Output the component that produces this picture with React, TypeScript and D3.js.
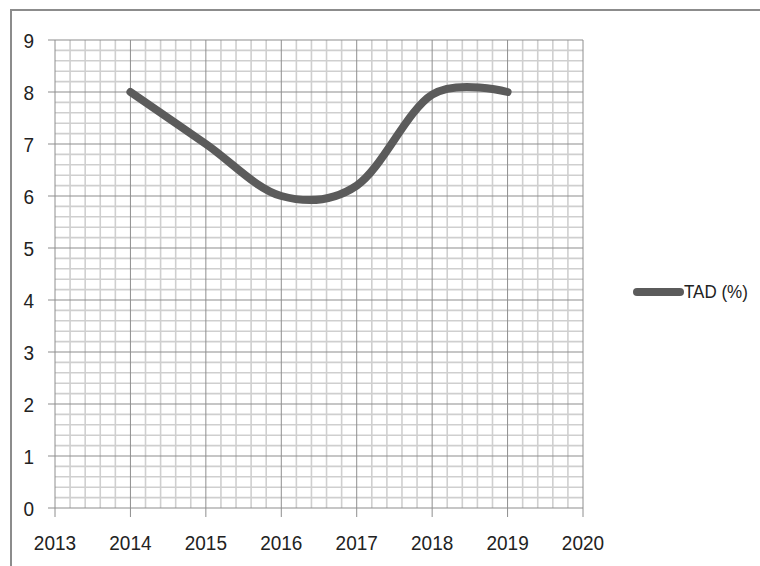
import React from "react";
import * as d3 from "d3";

const years = [2014, 2015, 2016, 2017, 2018, 2019];
const tad = [8, 7, 6, 6.2, 7.95, 8];
const xTicks = [2013, 2014, 2015, 2016, 2017, 2018, 2019, 2020];
const yTicks = [0, 1, 2, 3, 4, 5, 6, 7, 8, 9];
const seriesName = "TAD (%)";

const W = 760, H = 566;
const L = 55, R = 583, T = 40, B = 508;
const FONT = "'Liberation Sans', Arial, sans-serif";

export default function App() {
  const x = d3.scaleLinear().domain([2013, 2020]).range([L, R]);
  const y = d3.scaleLinear().domain([0, 9]).range([B, T]);

  const minorX = d3.range(0, 36).map((i) => 2013 + i * 0.2).filter((v, i) => i % 5 !== 0);
  const minorY = d3.range(0, 46).map((i) => i * 0.2).filter((v, i) => i % 5 !== 0);

  const line = d3
    .line<number>()
    .x((d, i) => x(years[i]))
    .y((d) => y(d))
    .curve(d3.curveCardinal.tension(0));

  return (
    <svg width={W} height={H} style={{ position: "absolute", left: 0, top: 0, background: "#fff" }}>
      <rect x={0} y={0} width={W} height={H} fill="#fff" />
      <line x1={10} y1={10} x2={W} y2={10} stroke="#8c8c8c" strokeWidth={2} />
      <line x1={11} y1={10} x2={11} y2={H} stroke="#8c8c8c" strokeWidth={2} />

      {minorX.map((v, i) => (
        <line key={"mx" + i} x1={x(v)} x2={x(v)} y1={T} y2={B} stroke="#cfcfcf" strokeWidth={1.6} />
      ))}
      {minorY.map((v, i) => (
        <line key={"my" + i} x1={L} x2={R} y1={y(v)} y2={y(v)} stroke="#cfcfcf" strokeWidth={1.6} />
      ))}
      {xTicks.map((v) => (
        <line key={"gx" + v} x1={x(v)} x2={x(v)} y1={T} y2={B + 9} stroke="#8e8e8e" strokeWidth={1} />
      ))}
      {yTicks.map((v) => (
        <line key={"gy" + v} x1={L - 7} x2={R} y1={y(v)} y2={y(v)} stroke="#8e8e8e" strokeWidth={1.2} />
      ))}

      {yTicks.map((v) => (
        <text
          key={"ty" + v}
          transform={`translate(34,${y(v) + 7.5}) scale(1,1.1)`}
          textAnchor="end"
          fontFamily={FONT}
          fontSize={19}
          fill="#222"
        >
          {v}
        </text>
      ))}
      {xTicks.map((v) => (
        <text
          key={"tx" + v}
          transform={`translate(${x(v)},550) scale(1,1.1)`}
          textAnchor="middle"
          fontFamily={FONT}
          fontSize={19}
          fill="#222"
        >
          {v}
        </text>
      ))}

      <path
        d={line(tad) || ""}
        fill="none"
        stroke="#5b5b5b"
        strokeWidth={8}
        strokeLinecap="round"
        strokeLinejoin="round"
      />

      <line x1={637} x2={680} y1={292} y2={292} stroke="#5b5b5b" strokeWidth={8} strokeLinecap="round" />
      <text transform="translate(684,298) scale(1,1.08)" fontFamily={FONT} fontSize={17} fill="#222">
        {seriesName}
      </text>
    </svg>
  );
}
